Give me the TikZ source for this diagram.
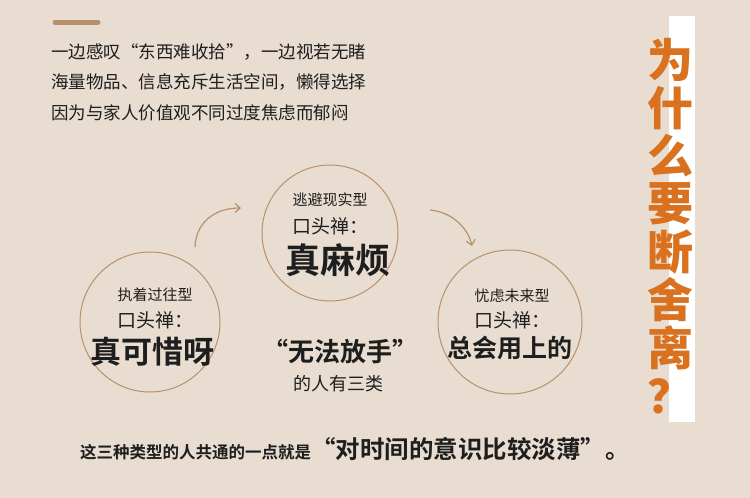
\documentclass[tikz,border=0pt]{standalone}
\usepackage{fontspec}
\setmainfont{Noto Sans CJK SC}
\newfontfamily\cjkb{Noto Sans CJK SC Bold}
\newfontfamily\cjkh{Noto Sans CJK SC Black}
\usetikzlibrary{arrows.meta}
\definecolor{bg}{HTML}{E8DDD0}
\definecolor{tan}{HTML}{B8916C}
\definecolor{org}{HTML}{D9711E}
\definecolor{ink}{HTML}{1E1E1E}
\tikzset{
 circ/.style={draw=tan,line width=1pt,circle,minimum size=#1},
 t/.style={text=ink,inner sep=0pt,font=\fontsize{#1}{#1}\selectfont},
 tb/.style={text=ink,inner sep=0pt,font=\cjkb\fontsize{#1}{#1}\selectfont},
 arr/.style={draw=tan,line width=1.2pt,-{Straight Barb[length=5pt,width=9pt]}},
 tt/.style={text=org,inner sep=0pt,font=\cjkh\fontsize{46}{46}\selectfont}
}
\begin{document}
\begin{tikzpicture}[x=1pt,y=-1pt]
\fill[bg] (0,0) rectangle (750,498);
\useasboundingbox (0,0) rectangle (750,498);
\fill[white] (669,16) rectangle (695,422);
\draw[tan,line width=5pt,line cap=round] (55,22) -- (98,22);
\node[t=17.5,anchor=west] (l1) at (51,52) {一边感叹“东西难收拾”，一边视若无睹};
\node[t=17.5,anchor=west] (l2) at (51,82) {海量物品、信息充斥生活空间，懒得选择};
\node[t=17.5,anchor=west] (l3) at (51,113) {因为与家人价值观不同过度焦虑而郁闷};
\foreach \c [count=\i] in {为,什,么,要,断,舍,离,？}
  \node[tt] (ti\i) at (670,{12+48*\i}) {\c};
\node[circ=140pt] (cl) at (150,322) {};
\node[circ=136pt] (cm) at (330,233) {};
\node[circ=144pt] (cr) at (510,322) {};
\node[t=15] (a1) at (155,295) {执着过往型};
\node[t=19] (a2) at (155,320) {口头禅：};
\node[tb=31] (a3) at (152,352) {真可惜呀};
\node[t=15] (b1) at (330,200) {逃避现实型};
\node[t=19] (b2) at (330,226) {口头禅：};
\node[tb=35] (b3) at (338,260) {真麻烦};
\node[t=15] (c1) at (512,296) {忧虑未来型};
\node[t=19] (c2) at (512,320) {口头禅：};
\node[tb=25] (c3) at (510,348) {总会用上的};
\node[tb=26] (m1) at (340,352) {“无法放手”};
\node[t=18] (m2) at (338,384) {的人有三类};
\coordinate (p1) at (195,247); \coordinate (p2) at (241,208);
\coordinate (q1) at (430,210); \coordinate (q2) at (472,246);
\draw[arr] (p1) .. controls (196,222) and (215,208) .. (p2);
\draw[arr] (q1) .. controls (452,212) and (468,228) .. (q2);
\node[tb=16.5,anchor=west] (bt) at (80,449) {这三种类型的人共通的一点就是\fontsize{24.5}{24.5}\selectfont“对时间的意识比较淡薄”。};
\end{tikzpicture}
\end{document}
